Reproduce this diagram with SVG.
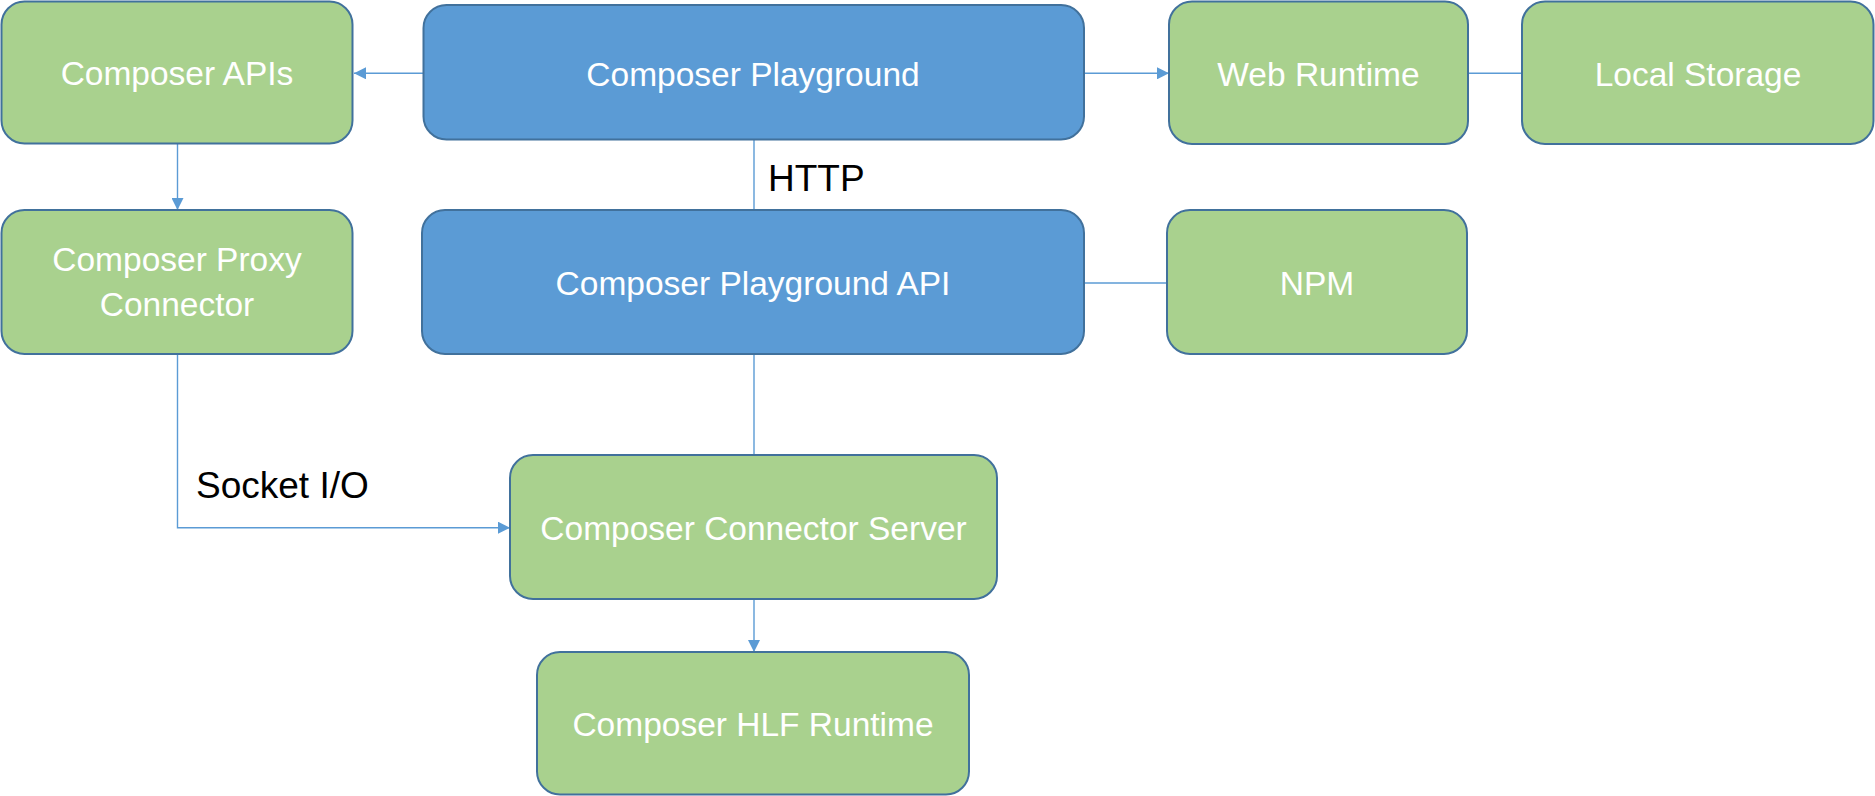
<svg xmlns="http://www.w3.org/2000/svg" width="1875" height="796" viewBox="0 0 1875 796">
<style>
.g{fill:#A9D18E;stroke:#41719C;stroke-width:2}
.b{fill:#5B9BD5;stroke:#41719C;stroke-width:2}
.t{font-family:"Liberation Sans",Arial,sans-serif;font-size:33.5px;fill:#FFFFFF;text-anchor:middle}
.lbl{font-family:"Liberation Sans",Arial,sans-serif;font-size:37px;fill:#000000}
.c{fill:none;stroke:#5B9BD5;stroke-width:1.4}
</style>
<defs>
<marker id="arr" viewBox="0 0 12 12" refX="12" refY="6" markerWidth="12" markerHeight="12" orient="auto" markerUnits="userSpaceOnUse">
<path d="M0,0 L12,6 L0,12 z" fill="#5B9BD5"/>
</marker>
</defs>
<rect width="1875" height="796" fill="#FFFFFF"/>
<g id="connectors">
<line class="c" x1="423" y1="73.3" x2="354" y2="73.3" marker-end="url(#arr)"/>
<line class="c" x1="1084" y1="73.3" x2="1169" y2="73.3" marker-end="url(#arr)"/>
<line class="c" x1="177.5" y1="144" x2="177.5" y2="210" marker-end="url(#arr)"/>
<line class="c" x1="754" y1="139.5" x2="754" y2="210"/>
<line class="c" x1="1468" y1="73.3" x2="1522" y2="73.3"/>
<line class="c" x1="1084" y1="283" x2="1167" y2="283"/>
<line class="c" x1="754" y1="354" x2="754" y2="455"/>
<path class="c" d="M177.5,354 V527.7 H510" marker-end="url(#arr)"/>
<line class="c" x1="754" y1="599" x2="754" y2="652" marker-end="url(#arr)"/>
<text class="lbl" x="768" y="191">HTTP</text>
<text class="lbl" x="196" y="497.5">Socket I/O</text>
</g>
<g id="composer-apis">
<rect class="g" x="1.5" y="1.5" width="351" height="142" rx="23"/>
<text class="t" x="177" y="85">Composer APIs</text>
</g>
<g id="composer-playground">
<rect class="b" x="423.5" y="5" width="660.5" height="134.5" rx="23"/>
<text class="t" x="753" y="86">Composer Playground</text>
</g>
<g id="web-runtime">
<rect class="g" x="1169" y="1.5" width="299" height="142.5" rx="23"/>
<text class="t" x="1318.5" y="86">Web Runtime</text>
</g>
<g id="local-storage">
<rect class="g" x="1522" y="1.5" width="351.5" height="142.5" rx="23"/>
<text class="t" x="1698" y="86">Local Storage</text>
</g>
<g id="composer-proxy-connector">
<rect class="g" x="1.5" y="210" width="351" height="144" rx="23"/>
<text class="t" x="177" y="270.5">Composer Proxy</text>
<text class="t" x="177" y="316">Connector</text>
</g>
<g id="composer-playground-api">
<rect class="b" x="422" y="210" width="662" height="144" rx="23"/>
<text class="t" x="753" y="295">Composer Playground API</text>
</g>
<g id="npm">
<rect class="g" x="1167" y="210" width="300" height="144" rx="23"/>
<text class="t" x="1317" y="295">NPM</text>
</g>
<g id="composer-connector-server">
<rect class="g" x="510" y="455" width="487" height="144" rx="23"/>
<text class="t" x="753.5" y="540">Composer Connector Server</text>
</g>
<g id="composer-hlf-runtime">
<rect class="g" x="537" y="652" width="432" height="142.5" rx="23"/>
<text class="t" x="753" y="735.5">Composer HLF Runtime</text>
</g>
</svg>
